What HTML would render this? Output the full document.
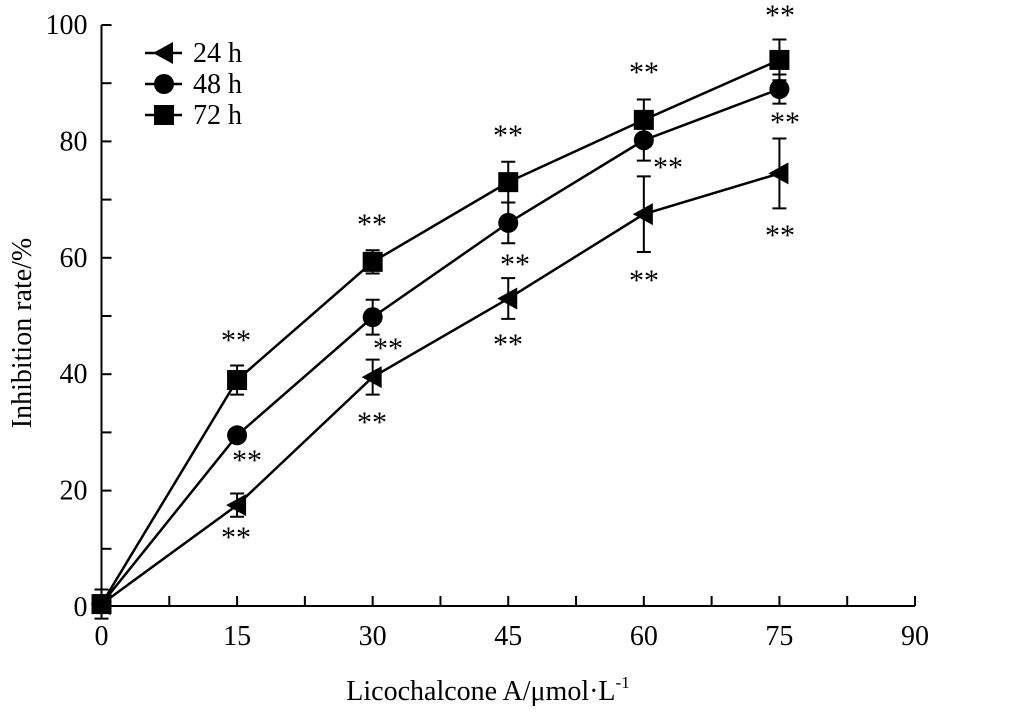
<!DOCTYPE html>
<html><head><meta charset="utf-8"><style>
body{margin:0;background:#fff;}
text{font-family:"Liberation Serif",serif;fill:#000;}
</style></head><body>
<svg id="chart" width="1019" height="713" xmlns="http://www.w3.org/2000/svg"></svg>
<script>
const xTicks=[0,15,30,45,60,75,90];
const yTicks=[0,20,40,60,80,100];
const doses=[0,15,30,45,60,75];
const s24=[0.5,17.5,39.5,53,67.5,74.5];
const e24=[0,2,3,3.5,6.5,6];
const s48=[0.5,29.5,49.8,66,80.2,89];
const e48=[0,0,3,3.5,3.5,2.5];
const s72=[0.5,39,59.3,73,83.7,94];
const e72=[2.5,2.5,2,3.5,3.5,3.5];
const seriesNames=["24 h","48 h","72 h"];
const X=v=>101.5+v*(915-101.5)/90;
const Y=v=>607-v*5.82;
const svg=document.getElementById('chart');
const NS="http://www.w3.org/2000/svg";
function el(t,a,p){const e=document.createElementNS(NS,t);for(const k in a)e.setAttribute(k,a[k]);(p||svg).appendChild(e);return e;}
let ax=el('line',{x1:X(0),y1:Y(0)-1,x2:X(90),y2:Y(0)-1,stroke:'#000','stroke-width':2});


let ay=el('line',{x1:X(0),y1:Y(100),x2:X(0),y2:Y(0),stroke:'#000','stroke-width':2});


for(let v=0;v<=90;v+=7.5){let t=el('line',{x1:X(v),y1:Y(0)-1,x2:X(v),y2:Y(0)-11,stroke:'#000','stroke-width':2});

}
for(let v=0;v<=100;v+=10){let t=el('line',{x1:X(0),y1:Y(v),x2:X(0)+10,y2:Y(v),stroke:'#000','stroke-width':2});

}
xTicks.forEach(v=>{let t=el('text',{x:X(v),y:645,'font-size':28,'text-anchor':'middle'});t.textContent=v;

});
yTicks.forEach(v=>{let t=el('text',{x:X(0)-14,y:Y(v)+9,'font-size':28,'text-anchor':'end'});t.textContent=v;

});
let xt=el('text',{x:488,y:700,'font-size':28,'text-anchor':'middle'});
xt.innerHTML='Licochalcone A/μmol·L<tspan dy="-12" font-size="17">-1</tspan>';


let yt=el('text',{x:0,y:0,'font-size':28,'text-anchor':'middle',transform:'translate(31,333) rotate(-90)'});
yt.textContent='Inhibition rate/%';


function marker(kind,x,y,g){
 if(kind==0) return el('polygon',{points:`${x-11},${y} ${x+9},${y-11} ${x+9},${y+11}`,fill:'#000'},g);
 if(kind==1) return el('circle',{cx:x,cy:y,r:10,fill:'#000'},g);
 return el('rect',{x:x-10,y:y-10,width:20,height:20,fill:'#000'},g);
}
const all=[[s24,e24],[s48,e48],[s72,e72]];
all.forEach(([s,e],k)=>{
 const g=el('g',{});
 
 
 let p=el('polyline',{points:doses.map((d,i)=>X(d)+','+Y(s[i])).join(' '),fill:'none',stroke:'#000','stroke-width':2.5},g);
 
 
 doses.forEach((d,i)=>{
  if(e[i]>0){const x=X(d),y1=Y(s[i]+e[i]),y2=Y(s[i]-e[i]);
   let eb=el('path',{d:`M${x},${y1}V${y2}M${x-7},${y1}H${x+7}M${x-7},${y2}H${x+7}`,stroke:'#000','stroke-width':2,fill:'none'},g);
   
   }
  let m=marker(k,X(d),Y(s[i]),g);
  
  
 });
});
const stars=[[236,535],[372,420],[508,342],[644,278],[780,233],
[247,458],[388,346],[515,262],[668,165],[785,120],
[236,338],[372,222],[508,133],[644,70],[780,13]];
stars.forEach(([x,y])=>{let t=el('text',{x:x,y:y+12,'font-size':30,'text-anchor':'middle'});t.textContent='**';

});
const lg=el('g',{});


seriesNames.forEach((n,k)=>{const y=53+k*31;
 const g=el('g',{},lg);
 
 
 el('line',{x1:145,y1:y,x2:182,y2:y,stroke:'#000','stroke-width':2.5},g);
 marker(k,164,y,g);
 const t=el('text',{x:193,y:y+9,'font-size':28},g);t.textContent=n;
});
</script>
</body></html>
